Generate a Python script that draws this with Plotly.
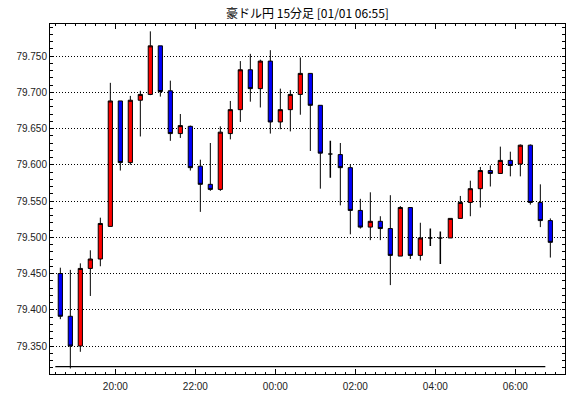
import pandas as pd
import plotly.graph_objects as go

# 15-minute candle start times
times = [
    "2024-12-31 18:30", "2024-12-31 18:45", "2024-12-31 19:00", "2024-12-31 19:15",
    "2024-12-31 19:30", "2024-12-31 19:45", "2024-12-31 20:00", "2024-12-31 20:15",
    "2024-12-31 20:30", "2024-12-31 20:45", "2024-12-31 21:00", "2024-12-31 21:15",
    "2024-12-31 21:30", "2024-12-31 21:45", "2024-12-31 22:00", "2024-12-31 22:15",
    "2024-12-31 22:30", "2024-12-31 22:45", "2024-12-31 23:00", "2024-12-31 23:15",
    "2024-12-31 23:30", "2024-12-31 23:45", "2025-01-01 00:00", "2025-01-01 00:15",
    "2025-01-01 00:30", "2025-01-01 00:45", "2025-01-01 01:00", "2025-01-01 01:15",
    "2025-01-01 01:30", "2025-01-01 01:45", "2025-01-01 02:00", "2025-01-01 02:15",
    "2025-01-01 02:30", "2025-01-01 02:45", "2025-01-01 03:00", "2025-01-01 03:15",
    "2025-01-01 03:30", "2025-01-01 03:45", "2025-01-01 04:00", "2025-01-01 04:15",
    "2025-01-01 04:30", "2025-01-01 04:45", "2025-01-01 05:00", "2025-01-01 05:15",
    "2025-01-01 05:30", "2025-01-01 05:45", "2025-01-01 06:00", "2025-01-01 06:15",
    "2025-01-01 06:30", "2025-01-01 06:45",
]

open_ = [
    79.450, 79.391, 79.350, 79.457, 79.470, 79.515, 79.688, 79.603, 79.689, 79.697,
    79.764, 79.702, 79.643, 79.653, 79.598, 79.573, 79.566, 79.643, 79.676, 79.731,
    79.705, 79.743, 79.659, 79.676, 79.697, 79.726, 79.682, 79.615, 79.614, 79.596,
    79.537, 79.514, 79.522, 79.512, 79.474, 79.541, 79.475, 79.499, 79.499, 79.499,
    79.526, 79.548, 79.567, 79.592, 79.588, 79.606, 79.601, 79.627, 79.548, 79.523,
]
high = [
    79.458, 79.455, 79.464, 79.482, 79.527, 79.713, 79.688, 79.695, 79.702, 79.784,
    79.764, 79.716, 79.670, 79.654, 79.607, 79.630, 79.653, 79.688, 79.743, 79.753,
    79.745, 79.758, 79.705, 79.703, 79.748, 79.726, 79.682, 79.633, 79.630, 79.601,
    79.553, 79.562, 79.529, 79.558, 79.543, 79.541, 79.520, 79.512, 79.508, 79.526,
    79.557, 79.578, 79.597, 79.599, 79.625, 79.618, 79.628, 79.628, 79.573, 79.526,
]
low = [
    79.387, 79.319, 79.342, 79.419, 79.460, 79.515, 79.592, 79.600, 79.639, 79.696,
    79.694, 79.633, 79.637, 79.592, 79.535, 79.564, 79.564, 79.635, 79.659, 79.687,
    79.679, 79.643, 79.649, 79.646, 79.669, 79.619, 79.567, 79.582, 79.544, 79.504,
    79.512, 79.496, 79.496, 79.434, 79.474, 79.470, 79.468, 79.488, 79.463, 79.499,
    79.526, 79.529, 79.541, 79.570, 79.588, 79.584, 79.584, 79.545, 79.514, 79.472,
]
close = [
    79.391, 79.350, 79.457, 79.470, 79.519, 79.688, 79.603, 79.689, 79.697, 79.764,
    79.701, 79.643, 79.654, 79.596, 79.573, 79.566, 79.645, 79.676, 79.731, 79.705,
    79.743, 79.659, 79.676, 79.697, 79.726, 79.682, 79.616, 79.615, 79.596, 79.537,
    79.514, 79.522, 79.512, 79.475, 79.541, 79.475, 79.499, 79.499, 79.499, 79.526,
    79.548, 79.567, 79.592, 79.588, 79.606, 79.599, 79.627, 79.548, 79.523, 79.493,
]

# reference line near the bottom
base_level = 79.3215
base_start = "2024-12-31 18:30"
base_end = "2025-01-01 06:45"

title_text = "豪ドル円 15分足 [01/01 06:55]"

df = pd.DataFrame({"t": pd.to_datetime(times), "o": open_, "h": high, "l": low, "c": close})
df["x"] = df["t"] + pd.Timedelta(minutes=7.5)
# candles whose open equals close (doji) are drawn in black
doji = (df["o"].round(3) == df["c"].round(3))
norm = df[~doji]
dj = df[doji]

fig = go.Figure()
fig.add_trace(go.Candlestick(
    x=norm["x"], open=norm["o"], high=norm["h"], low=norm["l"], close=norm["c"],
    increasing=dict(fillcolor="#FF0000", line=dict(color="black", width=1)),
    decreasing=dict(fillcolor="#0000FF", line=dict(color="black", width=1)),
    whiskerwidth=0, hoverinfo="skip",
))
fig.add_trace(go.Candlestick(
    x=dj["x"], open=dj["o"], high=dj["h"], low=dj["l"], close=dj["c"],
    increasing=dict(fillcolor="black", line=dict(color="black", width=1.5)),
    decreasing=dict(fillcolor="black", line=dict(color="black", width=1.5)),
    whiskerwidth=0, hoverinfo="skip",
))
fig.add_trace(go.Scatter(
    x=[pd.Timestamp(base_start), pd.Timestamp(base_end)], y=[base_level, base_level],
    mode="lines", line=dict(color="black", width=1.2), hoverinfo="skip",
))

tickfont = dict(family="Liberation Sans, Arial, sans-serif", size=10, color="#222222")

fig.update_layout(
    width=570, height=398,
    margin=dict(l=50, r=5, t=24, b=24),
    paper_bgcolor="white", plot_bgcolor="white",
    showlegend=False,
    boxgap=0.4,
    title=dict(text=title_text, x=0.5, xref="paper", xanchor="center",
               y=1 - 14 / 398, yref="container", yanchor="middle",
               font=dict(family="Noto Sans CJK JP", size=12, color="black")),
    xaxis=dict(
        type="date", automargin=False,
        range=["2024-12-31 18:22:00", "2025-01-01 07:14:30"],
        rangeslider=dict(visible=False),
        dtick=7200000, tickformat="%H:%M",
        ticks="inside", ticklen=5, tickcolor="black", tickwidth=1,
        showline=True, linecolor="black", linewidth=1, mirror="ticks",
        showgrid=False, zeroline=False,
        minor=dict(dtick=900000, ticks="inside", ticklen=2, tickcolor="black", showgrid=False),
        tickfont=tickfont, ticklabelstandoff=3,
        fixedrange=True,
    ),
    yaxis=dict(
        automargin=False,
        range=[79.31138, 79.79414],
        dtick=0.05, tick0=79.35, tickformat=".3f",
        ticks="inside", ticklen=3, tickcolor="black", tickwidth=1,
        showline=True, linecolor="black", linewidth=1, mirror="ticks",
        showgrid=True, gridcolor="black", gridwidth=1, griddash="1px,2px",
        zeroline=False,
        minor=dict(dtick=0.01, ticks="inside", ticklen=3, tickcolor="black", showgrid=False),
        tickfont=tickfont,
        fixedrange=True,
    ),
)

# the page's default body margin would offset the chart; remove it
fig.write_html("out.html", config={"displayModeBar": False, "staticPlot": True},
               post_script="document.body.style.margin='0px';")
